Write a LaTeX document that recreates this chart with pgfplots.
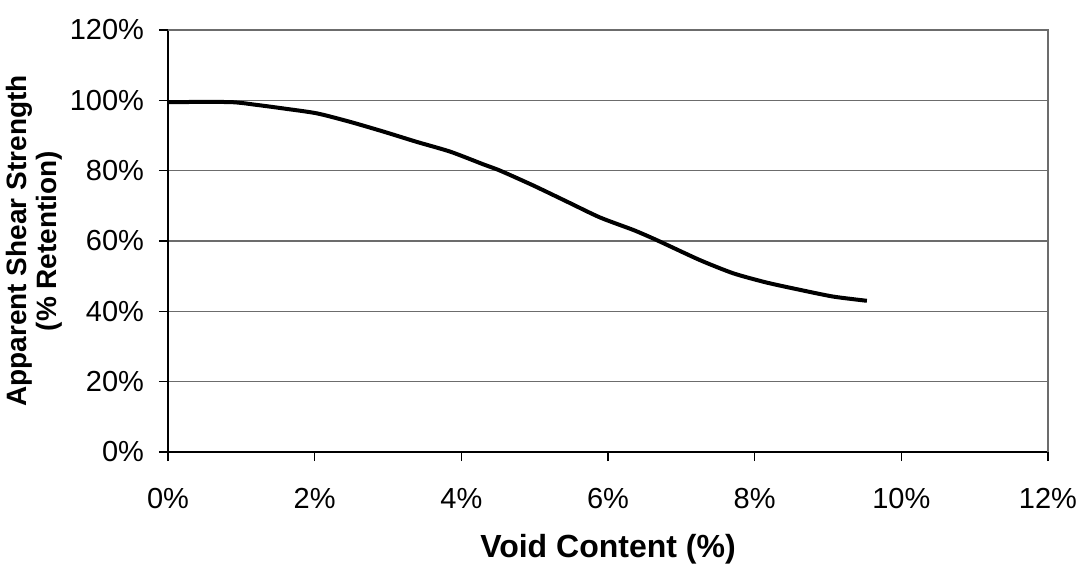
\documentclass[border=0pt]{standalone}
\usepackage{pgfplots}
\pgfplotsset{compat=1.18}
\usepackage{fontspec}
\setmainfont{Liberation Sans}
\begin{document}
\begin{tikzpicture}
\begin{axis}[
  name=ax,
  scale only axis,
  width=440pt, height=211pt,
  xmin=0, xmax=12, ymin=0, ymax=120,
  axis x line*=bottom, axis y line*=left,
  axis line style={black, line width=1pt},
  tick align=outside,
  major tick length=4.5pt,
  tick style={black, line width=0.8pt},
  xtick={0,2,4,6,8,10,12},
  xticklabels={0\%,2\%,4\%,6\%,8\%,10\%,12\%},
  ytick={0,20,40,60,80,100,120},
  yticklabels={0\%,20\%,40\%,60\%,80\%,100\%,120\%},
  ymajorgrids,
  grid style={gray!85!black, line width=0.8pt},
  ticklabel style={font=\fontsize{14.5}{16}\selectfont},
  xticklabel style={anchor=north, yshift=-10pt},
  yticklabel style={anchor=east, xshift=-4pt},
  xlabel={Void Content (\%)},
  xlabel style={font=\fontsize{16}{18}\selectfont\bfseries, at={(rel axis cs:0.5,0)}, anchor=center, yshift=-48.5pt},
  ylabel={Apparent Shear Strength\\(\% Retention)},
  ylabel style={font=\fontsize{14}{15}\selectfont\bfseries, align=center, at={(rel axis cs:0,0.5)}, anchor=center, yshift=67pt},
  clip=false,
]
\addplot[black, line width=2pt, smooth, tension=0.4] coordinates {
(0,99.5) (0.85,99.5) (1.21,98.7) (1.57,97.7) (2.03,96.3) (2.48,93.9)
(2.94,91.1) (3.39,88.2) (3.85,85.4) (4.30,81.8) (4.53,80.0) (4.98,75.8)
(5.44,71.2) (5.89,66.7) (6.35,63.1) (6.66,60.3) (7.25,54.6) (7.71,50.8)
(8.16,48.2) (8.62,46.1) (9.07,44.2) (9.53,43.0)
};
\end{axis}
\draw[gray!85!black, line width=0.8pt] (ax.north west) -- (ax.north east) -- (ax.south east);
\pgfresetboundingbox
\path ([xshift=-84pt,yshift=-61.5pt]ax.south west) rectangle ([xshift=22pt,yshift=15pt]ax.north east);
\end{tikzpicture}
\end{document}
